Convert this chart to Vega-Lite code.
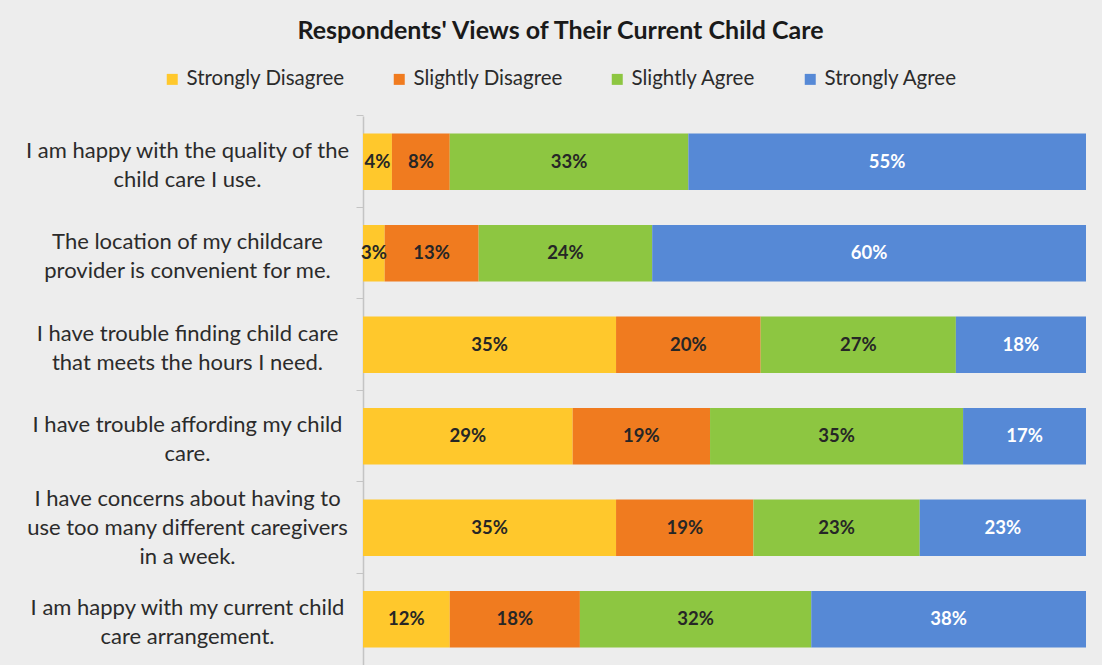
{
  "$schema": "https://vega.github.io/schema/vega-lite/v6.json",
  "width": 723,
  "height": 549,
  "autosize": {"type": "none"},
  "padding": {"left": 363, "top": 116, "right": 16, "bottom": 0},
  "background": "#EDEDED",
  "title": {
    "text": "Respondents' Views of Their Current Child Care",
    "anchor": "middle",
    "frame": "group",
    "dx": -164,
    "offset": 25,
    "fontSize": 25,
    "font": "Lato",
    "fontWeight": "bold",
    "color": "#1a1a1a"
  },
  "data": {
    "values": [
      {"item": "I am happy with the quality of the|child care I use.", "category": "Strongly Disagree", "order": 1, "value": 0.04},
      {"item": "I am happy with the quality of the|child care I use.", "category": "Slightly Disagree", "order": 2, "value": 0.08},
      {"item": "I am happy with the quality of the|child care I use.", "category": "Slightly Agree", "order": 3, "value": 0.33},
      {"item": "I am happy with the quality of the|child care I use.", "category": "Strongly Agree", "order": 4, "value": 0.55},
      {"item": "The location of my childcare|provider is convenient for me.", "category": "Strongly Disagree", "order": 1, "value": 0.03},
      {"item": "The location of my childcare|provider is convenient for me.", "category": "Slightly Disagree", "order": 2, "value": 0.13},
      {"item": "The location of my childcare|provider is convenient for me.", "category": "Slightly Agree", "order": 3, "value": 0.24},
      {"item": "The location of my childcare|provider is convenient for me.", "category": "Strongly Agree", "order": 4, "value": 0.60},
      {"item": "I have trouble finding child care|that meets the hours I need.", "category": "Strongly Disagree", "order": 1, "value": 0.35},
      {"item": "I have trouble finding child care|that meets the hours I need.", "category": "Slightly Disagree", "order": 2, "value": 0.20},
      {"item": "I have trouble finding child care|that meets the hours I need.", "category": "Slightly Agree", "order": 3, "value": 0.27},
      {"item": "I have trouble finding child care|that meets the hours I need.", "category": "Strongly Agree", "order": 4, "value": 0.18},
      {"item": "I have trouble affording my child|care.", "category": "Strongly Disagree", "order": 1, "value": 0.29},
      {"item": "I have trouble affording my child|care.", "category": "Slightly Disagree", "order": 2, "value": 0.19},
      {"item": "I have trouble affording my child|care.", "category": "Slightly Agree", "order": 3, "value": 0.35},
      {"item": "I have trouble affording my child|care.", "category": "Strongly Agree", "order": 4, "value": 0.17},
      {"item": "I have concerns about having to|use too many different caregivers|in a week.", "category": "Strongly Disagree", "order": 1, "value": 0.35},
      {"item": "I have concerns about having to|use too many different caregivers|in a week.", "category": "Slightly Disagree", "order": 2, "value": 0.19},
      {"item": "I have concerns about having to|use too many different caregivers|in a week.", "category": "Slightly Agree", "order": 3, "value": 0.23},
      {"item": "I have concerns about having to|use too many different caregivers|in a week.", "category": "Strongly Agree", "order": 4, "value": 0.23},
      {"item": "I am happy with my current child|care arrangement.", "category": "Strongly Disagree", "order": 1, "value": 0.12},
      {"item": "I am happy with my current child|care arrangement.", "category": "Slightly Disagree", "order": 2, "value": 0.18},
      {"item": "I am happy with my current child|care arrangement.", "category": "Slightly Agree", "order": 3, "value": 0.32},
      {"item": "I am happy with my current child|care arrangement.", "category": "Strongly Agree", "order": 4, "value": 0.38}
    ]
  },
  "encoding": {
    "y": {
      "field": "item",
      "type": "nominal",
      "sort": null,
      "title": null,
      "scale": {"paddingInner": 0.38, "paddingOuter": 0.19},
      "axis": {
        "labelExpr": "split(datum.label, '|')",
        "labelAlign": "center",
        "labelBaseline": "middle",
        "labelPadding": 169,
        "labelFontSize": 22,
        "labelLineHeight": 29,
        "labelFont": "Lato",
        "labelColor": "#2b2b2b",
        "labelLimit": 500,
        "labelOffset": {"condition": {"test": "indexof(datum.value, 'caregivers') >= 0", "value": -29}, "value": -11},
        "tickSize": 7,
        "tickColor": "#C4C4C4",
        "domainColor": "#C4C4C4",
        "domainWidth": 1.5,
        "bandPosition": -0.307
      }
    },
    "x": {"field": "value", "type": "quantitative", "stack": "zero", "scale": {"domain": [0, 1]}, "axis": null},
    "order": {"field": "order", "type": "quantitative"},
    "detail": {"field": "category"}
  },
  "layer": [
    {
      "mark": {"type": "bar"},
      "encoding": {
        "color": {
          "field": "category",
          "type": "nominal",
          "scale": {
            "domain": ["Strongly Disagree", "Slightly Disagree", "Slightly Agree", "Strongly Agree"],
            "range": ["#FFC82C", "#F07B1F", "#8DC641", "#5689D6"]
          },
          "legend": {
            "orient": "none",
            "legendX": -201,
            "legendY": -47,
            "direction": "horizontal",
            "title": null,
            "symbolType": "square",
            "symbolSize": 121,
            "symbolStrokeWidth": 0,
            "labelFontSize": 20.5,
            "labelFont": "Lato",
            "labelColor": "#2b2b2b",
            "labelOffset": 4,
            "columnPadding": 44,
            "labelLimit": 300
          }
        }
      }
    },
    {
      "mark": {"type": "text", "fontWeight": "bold", "fontSize": 18.5, "font": "Lato"},
      "encoding": {
        "x": {"field": "value", "type": "quantitative", "stack": "zero", "bandPosition": 0.5},
        "text": {"field": "value", "type": "quantitative", "format": ".0%"},
        "color": {
          "condition": {"test": "datum.category === 'Strongly Agree'", "value": "#FFFFFF"},
          "value": "#262626"
        }
      }
    }
  ],
  "config": {"view": {"stroke": null}}
}
